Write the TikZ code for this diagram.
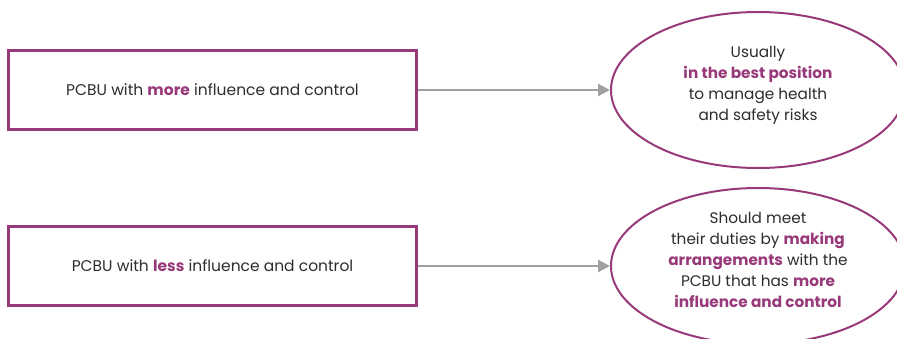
\documentclass[tikz,border=0pt]{standalone}
\usepackage{fontspec}
\setmainfont{Poppins}
\usetikzlibrary{shapes.geometric,arrows.meta}
\definecolor{plum}{RGB}{152,58,122}
\definecolor{arrowgray}{RGB}{160,160,160}
\definecolor{txt}{RGB}{45,45,45}
\newcommand{\hl}[1]{\textcolor{plum}{\bfseries #1}}
\tikzset{
  pbox/.style={draw=plum, line width=2.4pt, minimum width=408pt, minimum height=79pt, inner sep=0pt, text=txt, font=\fontsize{15.5}{21}\selectfont},
  oval/.style={ellipse, draw=plum, line width=2pt, minimum width=294pt, minimum height=156pt, inner sep=0pt},
  ovaltext/.style={inner sep=0pt, text=txt, align=center, font=\fontsize{15.3}{21}\selectfont},
  conn/.style={draw=arrowgray, line width=2.2pt, -{Triangle[length=12pt,width=12pt]}}
}
\begin{document}
\begin{tikzpicture}[x=1pt,y=-1pt]
\useasboundingbox (0,0) rectangle (897,338);
\fill[white] (0,0) rectangle (897,338);
\node[pbox] (b1) at (212.5,90) {PCBU with \hl{more} influence and control};
\node[pbox] (b2) at (212.5,266) {PCBU with \hl{less} influence and control};
\node[oval] (e1) at (758,90) {};
\node[ovaltext] (e1t) at ([yshift=5pt]e1.center) {Usually\\\hl{in the best position}\\to manage health\\and safety risks};
\node[oval] (e2) at (758,266) {};
\node[ovaltext] (e2t) at ([yshift=6pt]e2.center) {Should meet\\their duties by \hl{making}\\\hl{arrangements} with the\\PCBU that has \hl{more}\\\hl{influence and control}};
\draw[conn] (b1.east) -- (e1.west);
\draw[conn] (b2.east) -- (e2.west);
\end{tikzpicture}
\end{document}
